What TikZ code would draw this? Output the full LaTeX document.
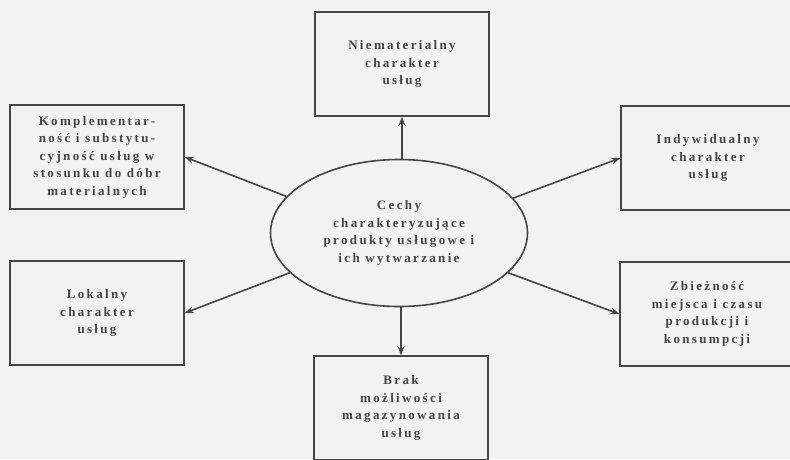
\documentclass[tikz,border=0pt]{standalone}
\usepackage{fontspec}
\usepackage{tikz}
\usepackage{xcolor}
\usetikzlibrary{shapes,arrows.meta,positioning,calc}
\newfontfamily\scanfont{Liberation Serif}[LetterSpace=18]
\definecolor{ink}{HTML}{454545}

\begin{document}
\begin{tikzpicture}[x=1pt,y=-1pt,
    module/.style={draw=ink, line width=1.6pt, minimum height=104pt, minimum width=174pt, inner sep=0pt, align=center,
        font=\scanfont\bfseries\fontsize{13}{17.5}\selectfont, text=ink},
    centre/.style={module, ellipse, minimum height=147pt, minimum width=257pt},
    arrow/.style={draw=ink, line width=1.6pt, -{Stealth[length=9pt,width=7pt]}}
]
    % page
    \useasboundingbox (0,0) rectangle (790,459);
    \clip (0,0) rectangle (790,459);
    \fill[black!5] (0,0) rectangle (790,459);

    % Central ellipse
    \node[centre] (cechy) at (399,233) {Cechy\\charakteryzujące\\produkty usługowe i\\ich wytwarzanie};

    % Surrounding boxes
    \node[module] (niemat) at (402,64) {Niematerialny\\charakter\\usług};
    \node[module] (kompl) at (97,157) {Komplementar-\\ność i substytu-\\cyjność usług w\\stosunku do dóbr\\materialnych};
    \node[module] (indyw) at (708,158) {Indywidualny\\charakter\\usług};
    \node[module] (lokal) at (97,313) {Lokalny\\charakter\\usług};
    \node[module] (zbiez) at (707,314) {Zbieżność\\miejsca i czasu\\produkcji i\\konsumpcji};
    \node[module] (brak) at (401,408) {Brak\\możliwości\\magazynowania\\usług};

    % Connections
    \draw[arrow] (cechy.north -| niemat.south) -- (niemat.south);
    \draw[arrow] (cechy.162) -- (kompl.east);
    \draw[arrow] (cechy.17) -- (indyw.west);
    \draw[arrow] (cechy.200) -- (lokal.east);
    \draw[arrow] (cechy.340) -- (zbiez.west);
    \draw[arrow] (cechy.south -| brak.north) -- (brak.north);
\end{tikzpicture}
\end{document}
